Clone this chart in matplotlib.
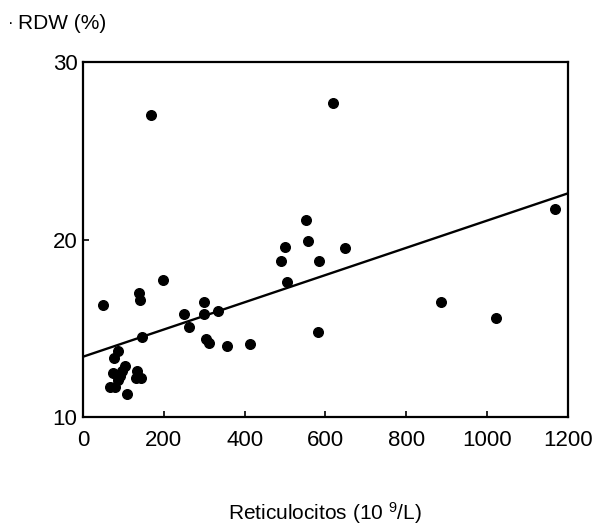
import numpy as np
import matplotlib
matplotlib.use("Agg")
import matplotlib.pyplot as plt

plt.rcParams['font.family'] = ['Liberation Sans', 'DejaVu Sans']
plt.rcParams['mathtext.fontset'] = 'custom'
plt.rcParams['mathtext.rm'] = 'Liberation Sans'
plt.rcParams['mathtext.it'] = 'Liberation Sans'

# reticulocytes (10^9/L) vs RDW (%)
reticulocitos = [50, 139, 141, 168, 199, 146, 86, 77, 104, 97, 73, 86, 92, 66, 78,
                 110, 133, 131, 143, 250, 262, 300, 300, 333, 305, 313, 357, 413,
                 490, 501, 505, 551, 558, 585, 581, 619, 648, 887, 1021, 1169]
rdw = [16.3, 17.0, 16.6, 27.0, 17.7, 14.5, 13.7, 13.3, 12.9, 12.6, 12.5, 12.1, 12.3,
       11.7, 11.7, 11.3, 12.6, 12.2, 12.2, 15.8, 15.1, 16.5, 15.8, 16.0, 14.4, 14.2,
       14.0, 14.1, 18.8, 19.6, 17.6, 21.1, 19.9, 18.8, 14.8, 27.7, 19.5, 16.5, 15.6,
       21.7]

# regression line as drawn in the figure
fit_intercept = 13.4
fit_slope = (22.6 - 13.4) / 1200

xticks = [0, 200, 400, 600, 800, 1000, 1200]
yticks = [10, 20, 30]

fig = plt.figure(figsize=(5.99, 5.32), dpi=100)
ax = fig.add_axes([0.1386, 0.216, 0.8094, 0.6675])

ax.scatter(reticulocitos, rdw, s=48, color='black', zorder=3)
xl = np.array([0, 1200])
ax.plot(xl, fit_intercept + fit_slope * xl, color='black', lw=1.7)

ax.set_xlim(0, 1200)
ax.set_ylim(10, 30)
ax.set_xticks(xticks)
ax.set_yticks(yticks)
ax.tick_params(direction='in', length=4, width=1.2, labelsize=16)
ax.tick_params(axis='x', pad=9)
ax.tick_params(axis='y', pad=4)
for s in ax.spines.values():
    s.set_linewidth(1.6)

ax.set_xlabel(r'Reticulocitos (10 $^{9}$/L)', fontsize=15, labelpad=36)
fig.text(0.013, 0.955, '·', fontsize=12, ha='left', va='center')
fig.text(0.03, 0.955, 'RDW (%)', fontsize=15, ha='left', va='center')

fig.savefig('out.png', dpi=100)
